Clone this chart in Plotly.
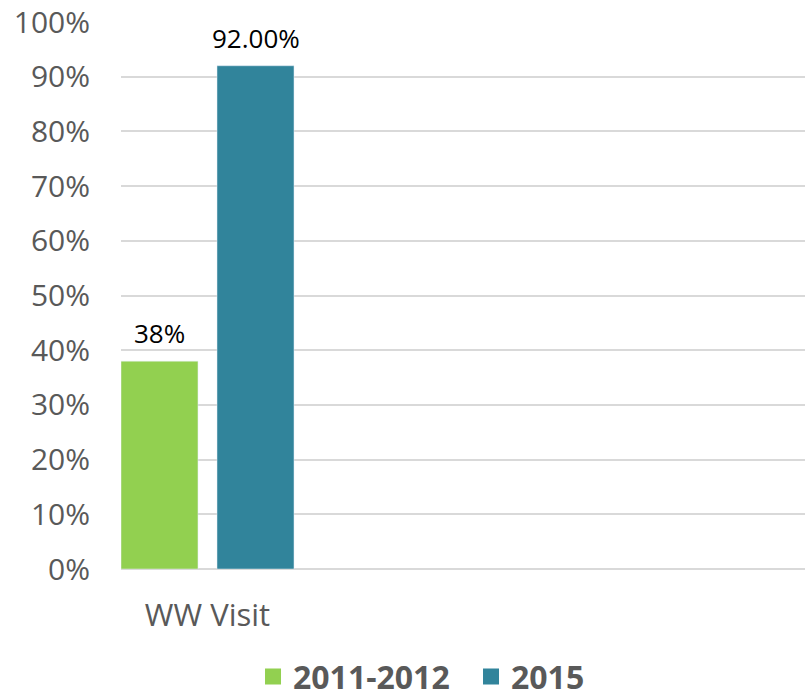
import plotly.graph_objects as go

categories = ["WW Visit"]
series_names = ["2011-2012", "2015"]
values_2011_2012 = [0.38]
values_2015 = [0.92]
labels_2011_2012 = ["38%"]
labels_2015 = ["92.00%"]
y_ticks = [0, 0.1, 0.2, 0.3, 0.4, 0.5, 0.6, 0.7, 0.8, 0.9, 1.0]

GREEN = "#92D050"
TEAL = "#31849B"
GREY = "#595959"
FONT = "Open Sans"
BAR_W = 0.445
OFFSETS = [-0.5, 0.055]

fig = go.Figure()
series = [
    (series_names[0], values_2011_2012, labels_2011_2012, GREEN, OFFSETS[0]),
    (series_names[1], values_2015, labels_2015, TEAL, OFFSETS[1]),
]
for name, vals, labs, color, off in series:
    fig.add_trace(go.Bar(
        x=list(range(len(categories))), y=vals, name=name,
        marker_color=color, offset=off, width=BAR_W, showlegend=False,
    ))
    # legend entry with larger square swatch
    fig.add_trace(go.Scatter(
        x=[None], y=[None], mode="markers", name=f"<b>{name}</b>",
        marker=dict(symbol="square", size=19, color=color),
    ))
    for i, (v, t) in enumerate(zip(vals, labs)):
        fig.add_annotation(
            x=i + off + BAR_W / 2, y=v, text=t, showarrow=False,
            yanchor="bottom", yshift=8,
            font=dict(family=FONT, size=26, color="#000000"),
        )

fig.update_layout(
    width=805, height=694,
    margin=dict(l=121, r=0, t=22, b=125, autoexpand=False),
    paper_bgcolor="white", plot_bgcolor="white",
    barmode="overlay",
    font=dict(family=FONT, color=GREY),
    showlegend=True,
    legend=dict(orientation="h", x=0.193, xanchor="left", y=-0.197, yanchor="middle",
                font=dict(family=FONT, size=32, color=GREY),
                itemsizing="trace", traceorder="normal", itemwidth=30,
                entrywidth=173, entrywidthmode="pixels",
                tracegroupgap=0),
    xaxis=dict(
        range=[-0.5, 3.454], tickmode="array", tickvals=list(range(len(categories))),
        ticktext=categories, automargin=False,
        showgrid=False, zeroline=False, showline=False,
        tickfont=dict(family=FONT, size=31, color=GREY), ticklabelstandoff=25,
    ),
    yaxis=dict(
        range=[0, 1], tickmode="array", tickvals=y_ticks, tickformat=".0%",
        automargin=False,
        showgrid=True, gridcolor="#D9D9D9", gridwidth=1.5,
        zeroline=True, zerolinecolor="#D9D9D9", zerolinewidth=1.5,
        showline=False,
        tickfont=dict(family=FONT, size=30, color=GREY), ticklabelstandoff=30,
    ),
)

fig.write_html(
    "out.html",
    config={"displayModeBar": False},
    post_script="document.body.style.margin='0';document.body.style.overflow='hidden';",
)
